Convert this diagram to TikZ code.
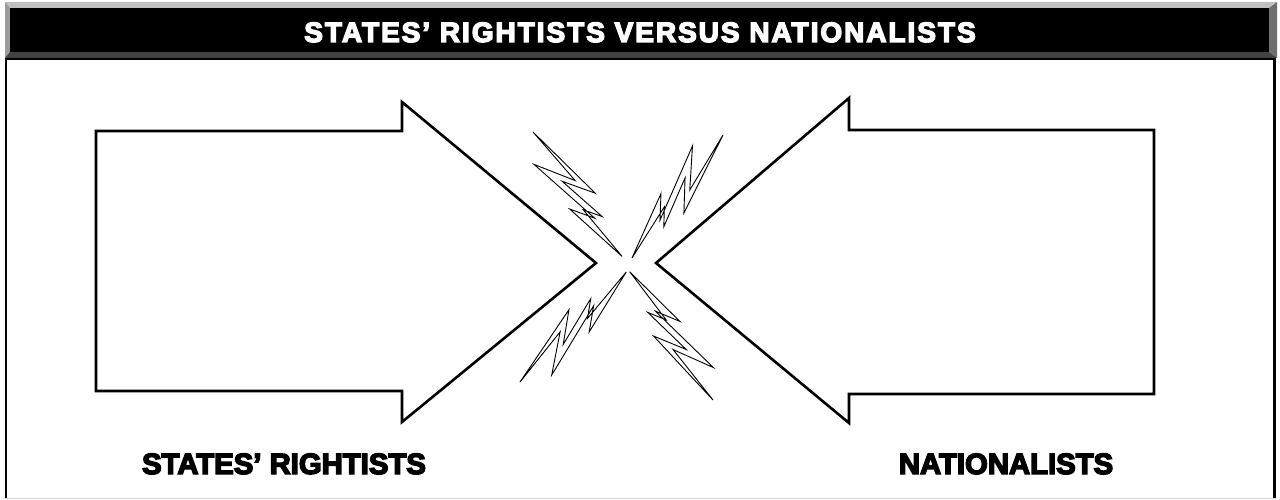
\documentclass[tikz,border=0pt]{standalone}
\usepackage{fontspec}
\newfontfamily\heavyfont{Liberation Sans}[BoldFeatures={FakeBold=5}]
\newfontfamily\titlefont{Liberation Sans}[BoldFeatures={FakeBold=5, LetterSpace=7}]
\definecolor{bevellight}{HTML}{C0C0C0}
\definecolor{bevelmid}{HTML}{9A9A9A}
\definecolor{beveldark}{HTML}{6E6E6E}
\definecolor{beveldeep}{HTML}{424242}
\definecolor{rulegray}{HTML}{D4D4D4}
\begin{document}
\begin{tikzpicture}[x=1pt, y=-1pt,
  every node/.style={inner sep=0pt},
  heading/.style={text=white, anchor=base, font=\titlefont\bfseries\fontsize{28}{32}\selectfont},
  side/.style={anchor=base, font=\heavyfont\bfseries\fontsize{29.3}{34}\selectfont},
  bigarrow/.style={draw, line width=2.6pt, fill=white},
  boltline/.style={draw, line width=0.9pt, fill=white},
  bolt/.pic={\path[boltline] (0,0) -- (86,-15) -- (57,5) -- (109,-7) -- (92.6,4.4) -- (153,0)
    -- (84,15) -- (106,0) -- (27,18) -- (64,-6) -- cycle;}
]
\useasboundingbox (0,0) rectangle (1280,500);
\fill[white] (0,0) rectangle (1280,500);

\fill[bevellight] (5,2) -- (1277,2) -- (1269,8) -- (10,8) -- cycle;
\fill[bevelmid] (5,2) -- (10,8) -- (10,52) -- (5,58) -- cycle;
\fill[beveldark] (1277,2) -- (1277,58) -- (1269,52) -- (1269,8) -- cycle;
\fill[beveldeep] (5,58) -- (10,52) -- (1269,52) -- (1277,58) -- cycle;
\fill[black] (10,8) rectangle (1269,52);
\node[heading] (title) at (640,42) {STATES’ RIGHTISTS VERSUS NATIONALISTS};

\draw[line width=2pt] (5,59) -- (1276,59);
\draw[line width=2pt] (6,58) -- (6,498);
\draw[line width=3pt] (1274.5,58) -- (1274.5,498);
\draw[rulegray, line width=1.5pt] (5,498.5) -- (1276,498.5);

\draw[bigarrow] (96,131) -- (402,131) -- (402,102) -- (596,263) -- (402,422) -- (402,391) -- (96,391) -- cycle;
\draw[bigarrow] (1154,130) -- (849,130) -- (849,98) -- (656,263) -- (849,423) -- (849,394) -- (1154,394) -- cycle;

\pic[rotate=-54.4] at (533,132) {bolt};
\pic[rotate=-126.5] at (723,135) {bolt};
\pic[rotate=46] at (520,382) {bolt};
\pic[rotate=123] at (713,400) {bolt};

\node[side] (states) at (284,474) {STATES’ RIGHTISTS};
\node[side] (nationals) at (1006,474) {NATIONALISTS};
\end{tikzpicture}
\end{document}
